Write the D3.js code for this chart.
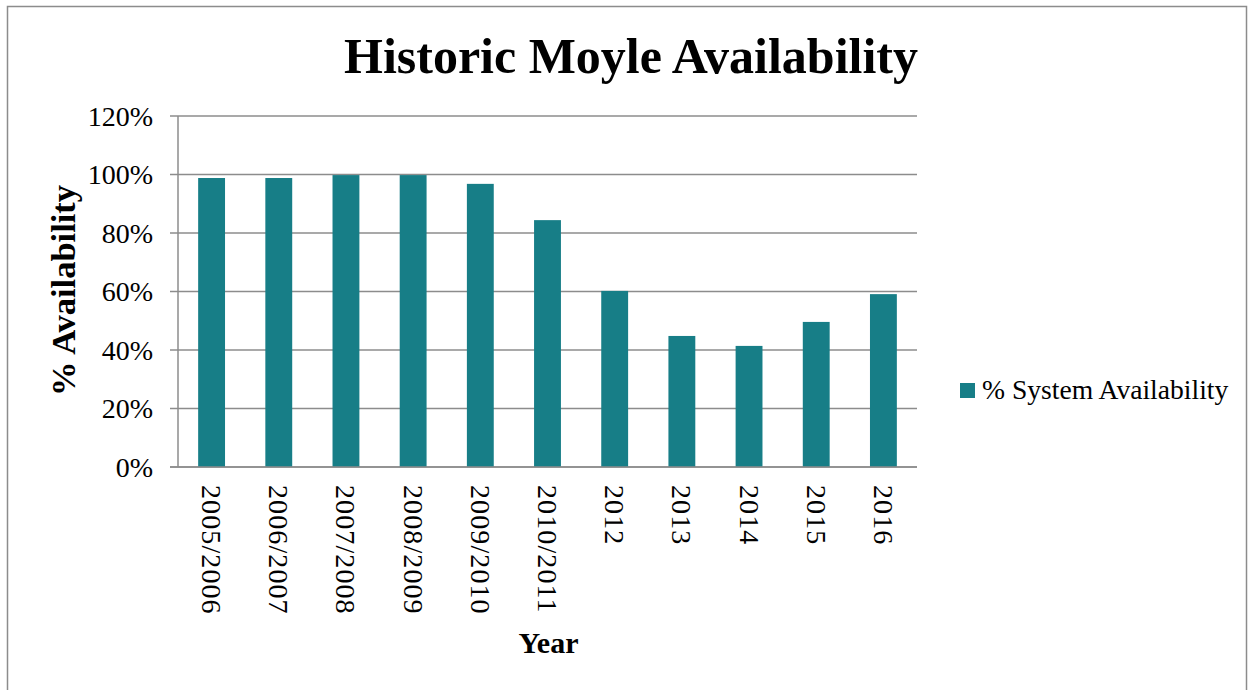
<!DOCTYPE html>
<html>
<head>
<meta charset="utf-8">
<script src="https://cdn.jsdelivr.net/npm/d3@7"></script>
<style>
  html, body { margin: 0; padding: 0; background: #fff; }
  svg { display: block; }
  text { font-family: "Liberation Serif", "DejaVu Serif", serif; fill: #000; }
</style>
</head>
<body>
<svg id="chart" width="1248" height="690"></svg>
<script>
const categories = ["2005/2006", "2006/2007", "2007/2008", "2008/2009", "2009/2010", "2010/2011", "2012", "2013", "2014", "2015", "2016"];
const availability = [0.988, 0.988, 0.998, 0.998, 0.968, 0.844, 0.602, 0.448, 0.414, 0.496, 0.591];
const yTicks = [0, 0.2, 0.4, 0.6, 0.8, 1.0, 1.2];
const seriesName = "% System Availability";
const titleText = "Historic Moyle Availability";
const xTitle = "Year";
const yTitle = "% Availability";

const svg = d3.select("#chart");
const barColor = "#177E87";
const gridColor = "#8c8c8c";

// outer border
svg.append("rect").attr("x", 7.5).attr("y", 6.5).attr("width", 1239).attr("height", 700)
  .attr("fill", "none").attr("stroke", "#8c8c8c").attr("stroke-width", 1.5);

const plot = { left: 178, right: 917, top: 116, bottom: 467 };

const x = d3.scaleBand().domain(categories).range([plot.left, plot.right]).paddingInner(0.6).paddingOuter(0.3);
const y = d3.scaleLinear().domain([0, 1.2]).range([plot.bottom, plot.top]);

// gridlines
svg.append("g").selectAll("line").data(yTicks).join("line")
  .attr("x1", plot.left - 8).attr("x2", plot.right)
  .attr("y1", d => y(d)).attr("y2", d => y(d))
  .attr("stroke", gridColor).attr("stroke-width", 1.5);

// y axis line
svg.append("line").attr("x1", plot.left).attr("x2", plot.left)
  .attr("y1", plot.top).attr("y2", plot.bottom)
  .attr("stroke", gridColor).attr("stroke-width", 1.5);

// bars
svg.append("g").selectAll("rect").data(availability).join("rect")
  .attr("x", (d, i) => x(categories[i]))
  .attr("width", x.bandwidth())
  .attr("y", d => y(d))
  .attr("height", d => y(0) - y(d))
  .attr("fill", barColor);

// baseline on top of bars
svg.append("line").attr("x1", plot.left - 8).attr("x2", plot.right)
  .attr("y1", y(0)).attr("y2", y(0))
  .attr("stroke", gridColor).attr("stroke-width", 1.5);

// y tick labels
svg.append("g").selectAll("text").data(yTicks).join("text")
  .attr("x", 153).attr("y", d => y(d))
  .attr("dy", "0.34em")
  .attr("text-anchor", "end")
  .attr("font-size", 28)
  .text(d => d3.format(".0%")(d));

// x tick labels (rotated 90 clockwise)
svg.append("g").selectAll("text").data(categories).join("text")
  .attr("transform", d => `translate(${x(d) + x.bandwidth() / 2},485) rotate(90)`)
  .attr("dy", "0.34em")
  .attr("text-anchor", "start")
  .attr("font-size", 28)
  .attr("letter-spacing", 1.1)
  .text(d => d);

// title
svg.append("text").attr("x", 631).attr("y", 73).attr("text-anchor", "middle")
  .attr("font-size", 50).attr("font-weight", "bold").text(titleText);

// axis titles
svg.append("text").attr("x", 548.5).attr("y", 653).attr("text-anchor", "middle")
  .attr("font-size", 30).attr("font-weight", "bold").text(xTitle);
svg.append("text").attr("transform", "translate(75,290.5) rotate(-90)").attr("text-anchor", "middle")
  .attr("font-size", 34.5).attr("font-weight", "bold").text(yTitle);

// legend
svg.append("rect").attr("x", 960).attr("y", 383).attr("width", 15).attr("height", 15).attr("fill", barColor);
svg.append("text").attr("x", 982).attr("y", 399).attr("font-size", 27.6).text(seriesName);
</script>
</body>
</html>
